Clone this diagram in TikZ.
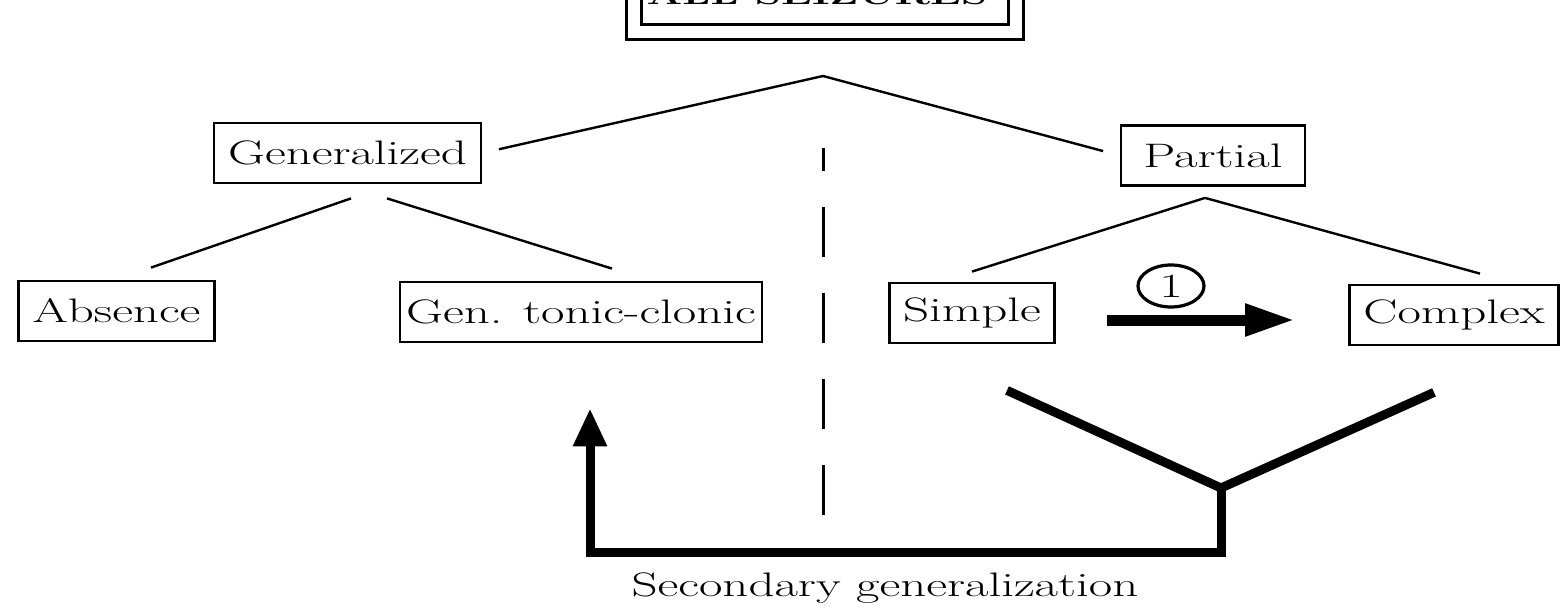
\documentclass[tikz,border=0pt]{standalone}
\usepackage{graphicx}
\usetikzlibrary{arrows.meta,calc,shapes.geometric}

% the scan is stretched sideways, so the letters are too
\newcommand{\wtext}[1]{\scalebox{1.5}[1]{#1}}

\tikzset{
  box/.style={draw, line width=1.4pt, inner xsep=7pt, minimum height=30pt,
    font=\fontsize{17}{20}\selectfont},
  link/.style={line width=1.2pt},
  heavy/.style={line width=4.5pt},
  sepline/.style={line width=1.5pt, dash pattern=on 25pt off 18pt},
}

\begin{document}
\begin{tikzpicture}[x=0.5pt,y=-0.5pt]
  \useasboundingbox (0,0) rectangle (1560,610);
  \clip (0,0) rectangle (1560,610);

  % title, cut by the top edge
  \node[draw, line width=1.5pt, double, double distance=6pt,
    minimum width=191pt, minimum height=37.5pt,
    font=\fontsize{14}{17}\selectfont\bfseries] (title) at (825,-5.5) {\wtext{ALL SEIZURES}\hspace*{8pt}};
  \coordinate (apex) at (823,76);

  % boxes
  \node[box] (gen) at (347.5,153) {\wtext{Generalized}};
  \node[box, minimum width=92pt] (partial) at (1213,155.5) {\wtext{Partial}};
  \node[box] (absence) at (116.5,311) {\wtext{Absence}};
  \node[box, inner xsep=3pt] (gtc) at (581,312) {\wtext{Gen. tonic-clonic}};
  \node[box] (simple) at (972,313) {\wtext{Simple}};
  \node[box] (complex) at (1454,315) {\wtext{Complex}};

  % tree lines
  \draw[link, shorten >=8.5pt] (apex) -- (gen.east);
  \draw[link, shorten >=8.5pt] (apex) -- (partial.west);
  \draw[link] ($(gen.south)+(3.5,14)$) -- ($(absence.north)+(34.5,-12)$);
  \draw[link] ($(gen.south)+(39.5,14)$) -- ($(gtc.north)+(31,-12)$);
  \draw[link] ($(partial.south)+(-8,11)$) -- ($(simple.north)+(0,-10)$);
  \draw[link] ($(partial.south)+(-8,11)$) -- ($(complex.north)+(26,-10)$);

  % divider
  \draw[sepline] (823,515) -- (823,148);

  % simple to complex
  \node[draw, ellipse, line width=1.6pt, minimum width=33pt, minimum height=21pt,
    inner sep=0pt, font=\fontsize{17}{20}\selectfont] (one) at (1171,286) {\wtext{1}};
  \draw[line width=5.5pt, -{Triangle[length=25pt,width=15pt]}]
    ($(simple.east)+(51,7)$) -- ($(complex.west)+(-53,5)$);

  % secondary generalization
  \coordinate (vl) at ($(simple.south)+(35,46)$);
  \coordinate (vr) at ($(complex.south)+(-20,46)$);
  \coordinate (join) at (1221,488);
  \coordinate (tip) at ($(gtc.south)+(9,65)$);
  \draw[heavy] (vl) -- (join) -- (vr);
  \draw[heavy, -{Triangle[length=19pt,width=16pt]}] (join) -- ++(0,64) -| (tip);
  \node[font=\fontsize{17}{20}\selectfont] (secgen) at (885,588) {\wtext{Secondary generalization}};
\end{tikzpicture}
\end{document}
